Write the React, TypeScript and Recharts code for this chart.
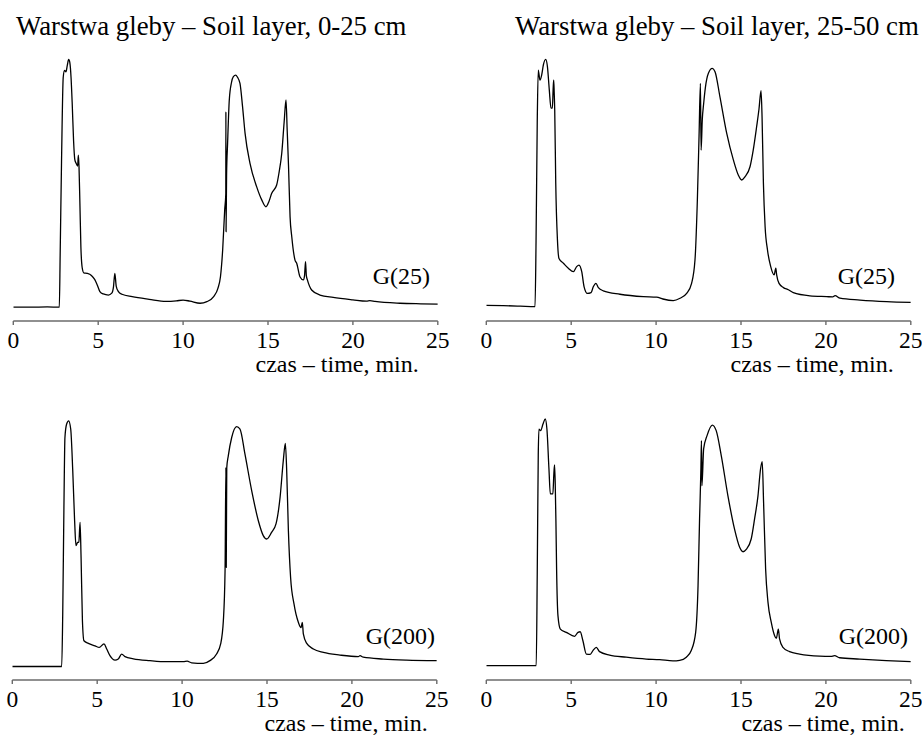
import React from 'react';
import { LineChart, Line, XAxis, YAxis, Label } from 'recharts';

const FONT = 'Liberation Serif, Tinos, DejaVu Serif, Times New Roman, Times, serif';

// Axis settings shared by all four chromatograms
const TIME_TICKS = [0, 5, 10, 15, 20, 25];
const TIME_LABEL = 'czas – time, min.';
const TITLE_LAYER_0_25 = 'Warstwa gleby – Soil layer, 0-25 cm';
const TITLE_LAYER_25_50 = 'Warstwa gleby – Soil layer, 25-50 cm';
const DOSE_25 = 'G(25)';
const DOSE_200 = 'G(200)';

// Detector signal (relative units) against retention time (min)
const layer0_25_G25: [number, number][] = [
  [0, 5.2], [1, 5.2], [2, 5.3], [2.71, 5.2], [2.76, 25], [2.84, 60], [2.94, 92], [3.02, 94.6],
  [3.1, 94.0], [3.18, 96.5], [3.26, 98.7], [3.33, 97.5], [3.4, 92], [3.47, 82], [3.55, 68],
  [3.62, 61], [3.7, 59.5], [3.79, 58.5], [3.83, 62.6], [3.87, 58.2], [3.92, 45], [3.98, 28],
  [4.06, 20], [4.15, 18.2], [4.35, 18], [4.6, 17.2], [4.8, 15.6], [4.95, 13.5], [5.1, 11.1],
  [5.3, 10.2], [5.6, 9.8], [5.8, 10.5], [5.9, 12.9], [5.98, 18], [6.06, 13.2], [6.18, 11.2],
  [6.4, 10.1], [7, 9.2], [8, 8.2], [9, 7.4], [9.6, 7.6], [10, 7.9], [10.4, 7.5], [11, 6.7],
  [11.4, 7.3], [11.8, 9.2], [12.05, 12.3], [12.2, 16.7], [12.33, 26.8], [12.45, 42],
  [12.515, 48], [12.52, 79], [12.53, 33.7], [12.56, 55], [12.62, 67], [12.72, 83.4],
  [12.85, 90], [12.96, 92.2], [13.1, 92.8], [13.2, 92], [13.35, 89.7], [13.5, 81],
  [13.65, 70.8], [13.94, 59.5], [14.33, 50.7], [14.63, 45.7], [14.88, 43.1], [15.05, 45],
  [15.22, 48.2], [15.51, 51.3], [15.65, 56], [15.81, 63.3], [15.95, 75], [16.06, 83.4],
  [16.13, 72], [16.21, 58.2], [16.3, 39.3], [16.4, 31.8], [16.59, 23], [16.69, 21.8],
  [16.88, 16.7], [17.08, 15.5], [17.15, 17], [17.21, 22.4], [17.26, 17], [17.32, 15.5],
  [17.57, 11.7], [18.06, 9.8], [18.84, 8.9], [20, 8.0], [20.8, 7.5], [21, 7.7], [21.3, 7.4],
  [22.77, 6.7], [24, 6.5], [25, 6.4],
];

const layer25_50_G25: [number, number][] = [
  [0, 5.9], [1, 5.8], [2, 5.6], [2.87, 5.4], [2.93, 30], [3.0, 75], [3.06, 94.7], [3.16, 90.9],
  [3.26, 92.8], [3.36, 96.6], [3.5, 98.7], [3.6, 96], [3.71, 87.2], [3.81, 80.3], [3.89, 80.3],
  [3.94, 88], [3.97, 90.9], [4.0, 86], [4.03, 79.6], [4.09, 52], [4.19, 30.6], [4.28, 23.6],
  [4.54, 21.8], [4.83, 19.9], [5.13, 18.6], [5.32, 20.5], [5.46, 21.1], [5.62, 18.6],
  [5.76, 12.9], [5.95, 10.4], [6.17, 10.7], [6.3, 12.9], [6.46, 14.2], [6.6, 12.6],
  [6.89, 11.4], [7.87, 10.1], [9.25, 9.2], [10.03, 9.0], [10.4, 8.3], [11.01, 7.7],
  [11.41, 8.6], [11.8, 10.4], [12.09, 14.2], [12.29, 23], [12.43, 45.7], [12.53, 70],
  [12.61, 89.7], [12.65, 64.5], [12.72, 76], [12.8, 82], [12.9, 88], [13.08, 93.5],
  [13.31, 95.3], [13.47, 94.1], [13.76, 84.6], [14.16, 70.8], [14.55, 60.8], [14.84, 55.1],
  [15.04, 53.2], [15.23, 54.4], [15.53, 58.2], [15.72, 64.5], [15.92, 73.3], [16.06, 80],
  [16.18, 86.9], [16.24, 77.1], [16.32, 52], [16.42, 35.6], [16.56, 26.8], [16.75, 20.5],
  [16.95, 17.4], [17.05, 19.9], [17.1, 17.4], [17.24, 14.2], [17.5, 12.6], [17.79, 11.8],
  [18.08, 10.7], [19.06, 9.5], [20.05, 9.2], [20.4, 9.1], [20.54, 9.6], [20.83, 8.6],
  [22.01, 7.9], [23.58, 7.3], [25, 7.0],
];

const layer0_25_G200: [number, number][] = [
  [0, 5.1], [1, 5.1], [2, 5.1], [2.91, 5.1], [2.97, 25], [3.04, 65], [3.1, 91.5], [3.2, 96.6],
  [3.32, 97.8], [3.44, 94.7], [3.56, 79], [3.67, 60.1], [3.75, 50.7], [3.85, 51.9], [3.92, 52],
  [3.99, 59.5], [4.05, 46.3], [4.13, 22.4], [4.22, 14.8], [4.48, 13.8], [4.87, 12.9],
  [5.12, 12.3], [5.4, 13.6], [5.56, 11.7], [5.75, 9.2], [6.05, 7.5], [6.24, 7.9], [6.44, 9.8],
  [6.64, 8.8], [7.13, 8.0], [8.11, 7.3], [9.09, 6.9], [10.07, 6.9], [10.3, 7.1], [10.56, 6.5],
  [11.25, 6.3], [11.64, 7.3], [12.03, 9.8], [12.27, 13.6], [12.43, 22.4], [12.53, 41.2],
  [12.58, 80.2], [12.6, 42.5], [12.63, 80], [12.72, 84.6], [12.92, 91.5], [13.21, 95.6],
  [13.41, 94.7], [13.7, 85.3], [14.1, 71.4], [14.49, 60.1], [14.78, 54.5], [14.98, 53.2],
  [15.27, 55.7], [15.53, 58.9], [15.77, 68.9], [15.96, 82.8], [16.08, 89.3], [16.16, 79],
  [16.26, 56.3], [16.39, 38.7], [16.59, 28.7], [16.85, 21.7], [17.0, 19.8], [17.08, 21.7],
  [17.14, 17.4], [17.34, 13.8], [17.73, 11.7], [18.32, 10.4], [19.3, 9.4], [20.38, 8.8],
  [20.48, 9.2], [20.67, 8.6], [21.85, 7.9], [23.22, 7.5], [25, 7.3],
];

const layer25_50_G200: [number, number][] = [
  [0, 5.4], [1, 5.4], [2, 5.4], [2.94, 5.4], [3.0, 40], [3.06, 85], [3.1, 94.7], [3.2, 94.1],
  [3.34, 96.6], [3.47, 98.5], [3.57, 94.7], [3.69, 79.6], [3.77, 70.2], [3.92, 70.2], [3.98, 78],
  [4.02, 81.2], [4.06, 74], [4.1, 60], [4.14, 41.9], [4.22, 24.3], [4.36, 19.2], [4.71, 18],
  [5.2, 16.5], [5.4, 18], [5.53, 18.2], [5.69, 14.8], [5.89, 9.8], [6.12, 9.7], [6.28, 11.1],
  [6.48, 12.3], [6.67, 10.7], [7.26, 9.4], [8.24, 8.6], [9.42, 7.9], [10.21, 7.7], [10.99, 7.2],
  [11.39, 7.4], [11.78, 8.6], [12.07, 11.1], [12.33, 18], [12.47, 35.6], [12.56, 60.8],
  [12.64, 80], [12.67, 90.3], [12.7, 73.3], [12.8, 87.2], [13.0, 92.2], [13.31, 96.2],
  [13.54, 94.1], [13.84, 84.6], [14.23, 69.5], [14.62, 56.9], [14.92, 50.1], [15.12, 48.4],
  [15.31, 49.3], [15.6, 53.2], [15.8, 60.8], [16.0, 69.5], [16.15, 79.6], [16.25, 82.4],
  [16.33, 67.1], [16.45, 41.9], [16.59, 29.3], [16.78, 21.8], [16.98, 16.7], [17.08, 15.7],
  [17.2, 19.2], [17.27, 15.5], [17.47, 12.3], [17.86, 10.7], [18.45, 9.8], [19.63, 9.0],
  [20.3, 8.9], [20.51, 9.2], [20.81, 8.4], [21.99, 7.9], [23.56, 7.3], [25, 6.9],
];

const PLOT_LEFT = 13.3;
const PLOT_WIDTH = 424.5;
const PLOT_HEIGHT = 265;
const AXIS_HEIGHT = 56;
const CHART_WIDTH = 460;

type PanelProps = {
  series: [number, number][];
  left: number;
  top: number;
  marginTop: number;
  labelInset: number;
};

function Panel({ series, left, top, marginTop, labelInset }: PanelProps) {
  const rows = series.map(([t, v]) => ({ t, v }));
  const axisY = marginTop + PLOT_HEIGHT;
  return (
    <div style={{ position: 'absolute', left, top }}>
      <LineChart
        width={CHART_WIDTH}
        height={marginTop + PLOT_HEIGHT + AXIS_HEIGHT}
        data={rows}
        margin={{ top: marginTop, right: CHART_WIDTH - PLOT_LEFT - PLOT_WIDTH, bottom: 0, left: PLOT_LEFT }}
      >
        <XAxis
          dataKey="t"
          type="number"
          domain={[0, 25]}
          ticks={TIME_TICKS}
          interval={0}
          allowDataOverflow
          height={AXIS_HEIGHT}
          stroke="#6b6b6b"
          strokeWidth={1.4}
          tickSize={4}
          tickMargin={6}
          tick={{ fill: '#000', fontSize: 23.5, style: { fontFamily: FONT } }}
        >
          <Label
            content={(props: any) => {
              const vb = props && props.viewBox ? props.viewBox : null;
              const x = vb ? vb.x + vb.width - labelInset : PLOT_LEFT + PLOT_WIDTH - labelInset;
              const y = vb ? vb.y + 51 : axisY + 51;
              return (
                <text x={x} y={y} textAnchor="end" fill="#000" style={{ fontFamily: FONT, fontSize: 24 }}>
                  {TIME_LABEL}
                </text>
              );
            }}
          />
        </XAxis>
        <YAxis hide type="number" domain={[0, 100]} allowDataOverflow />
        <Line
          dataKey="v"
          type="monotoneX"
          stroke="#000"
          strokeWidth={1.3}
          dot={false}
          activeDot={false}
          isAnimationActive={false}
        />
      </LineChart>
    </div>
  );
}

export default function App() {
  return (
    <div
      style={{
        position: 'absolute',
        left: 0,
        top: 0,
        width: 922,
        height: 738,
        overflow: 'hidden',
        background: '#fff',
        fontFamily: FONT,
      }}
    >
      <Panel series={layer0_25_G25} left={0} top={0} marginTop={56} labelInset={19} />
      <Panel series={layer25_50_G25} left={473.2} top={0} marginTop={56} labelInset={17} />
      <Panel series={layer0_25_G200} left={-1} top={0} marginTop={415} labelInset={9} />
      <Panel series={layer25_50_G200} left={473.4} top={0} marginTop={415} labelInset={6} />
      <svg
        width={922}
        height={738}
        style={{ position: 'absolute', left: 0, top: 0, pointerEvents: 'none', fontFamily: FONT }}
      >
        <g fill="#000">
          <text x={16} y={35} style={{ fontSize: 26.8 }}>{TITLE_LAYER_0_25}</text>
          <text x={515} y={35} style={{ fontSize: 26.8 }}>{TITLE_LAYER_25_50}</text>
          <text x={430} y={284} textAnchor="end" style={{ fontSize: 24 }}>{DOSE_25}</text>
          <text x={895} y={284} textAnchor="end" style={{ fontSize: 24 }}>{DOSE_25}</text>
          <text x={435} y={644} textAnchor="end" style={{ fontSize: 24 }}>{DOSE_200}</text>
          <text x={908} y={644} textAnchor="end" style={{ fontSize: 24 }}>{DOSE_200}</text>
        </g>
      </svg>
    </div>
  );
}
